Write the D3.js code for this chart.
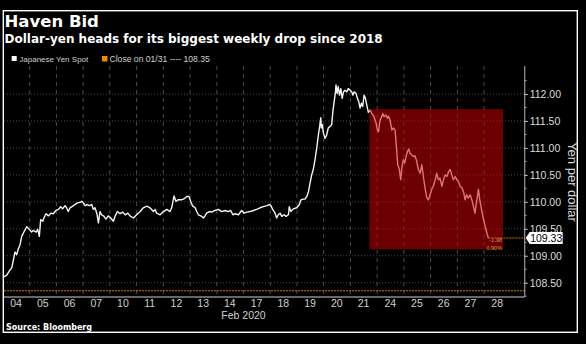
<!DOCTYPE html>
<html><head><meta charset="utf-8">
<script src="https://cdn.jsdelivr.net/npm/d3@7"></script>
<style>
html,body{margin:0;padding:0;background:#000;}
svg{display:block;}
</style></head>
<body>
<svg id="chart" width="586" height="344"></svg>
<script>
// ---- data ----
const title = "Haven Bid";
const subtitle = "Dollar-yen heads for its biggest weekly drop since 2018";
const source = "Source: Bloomberg";
const seriesName = "Japanese Yen Spot";
const closeLabel = "Close on 01/31 ---- 108.35";
const yAxisTitle = "Yen per dollar";
const monthLabel = "Feb 2020";
const dayLabels = ["04","05","06","07","10","11","12","13","14","17","18","19","20","21","24","25","26","27","28"];
const yTicks = [108.5,109,109.5,110,110.5,111,111.5,112];
const closeLevel = 108.35;
const lastValue = 109.33;
const boxDays = [13.71, 18.71];
const boxValues = [109.12, 111.72];
const boxNotes = ["-1.98", "0.90%"];
// position in trading days (0 = start of Feb 04 session)
const dayPos = [0.04,0.14,0.24,0.33,0.39,0.45,0.51,0.57,0.64,0.70,
0.79,0.89,0.98,1.07,1.13,1.24,1.30,1.36,1.41,1.49,
1.53,1.61,1.70,1.79,1.88,1.98,2.07,2.16,2.23,2.32,
2.38,2.44,2.51,2.61,2.69,2.78,2.88,2.95,3.01,3.07,
3.15,3.23,3.32,3.38,3.44,3.51,3.57,3.63,3.69,3.78,
3.85,3.94,4.03,4.13,4.19,4.28,4.38,4.48,4.57,4.67,
4.75,4.88,5.00,5.13,5.25,5.38,5.50,5.63,5.69,5.75,
5.88,6.00,6.13,6.25,6.31,6.40,6.47,6.56,6.69,6.75,
6.81,6.88,6.93,6.97,7.02,7.10,7.19,7.25,7.31,7.44,
7.50,7.56,7.62,7.72,7.81,7.93,8.06,8.18,8.31,8.43,
8.52,8.60,8.68,8.81,8.93,9.02,9.12,9.24,9.37,9.49,
9.62,9.74,9.87,9.97,10.02,10.09,10.18,10.24,10.30,10.37,
10.43,10.52,10.59,10.68,10.71,10.77,10.86,10.99,11.09,11.14,
11.22,11.30,11.37,11.43,11.49,11.55,11.61,11.68,11.74,11.80,
11.84,11.89,11.91,11.95,11.99,12.05,12.11,12.17,12.24,12.30,
12.34,12.39,12.44,12.46,12.50,12.54,12.59,12.64,12.69,12.74,
12.80,12.86,12.92,12.99,13.05,13.09,13.14,13.21,13.26,13.31,
13.36,13.41,13.46,13.51,13.56,13.61,13.67,13.74,13.80,13.88,
13.96,14.01,14.05,14.11,14.17,14.21,14.26,14.33,14.38,14.43,
14.48,14.55,14.61,14.67,14.73,14.77,14.83,14.88,14.93,14.98,
15.03,15.08,15.13,15.18,15.23,15.30,15.36,15.42,15.48,15.54,
15.61,15.67,15.73,15.79,15.86,15.92,15.98,16.04,16.10,16.17,
16.23,16.29,16.35,16.42,16.48,16.54,16.61,16.67,16.73,16.79,
16.85,16.92,16.98,17.04,17.10,17.17,17.23,17.29,17.35,17.41,
17.48,17.54,17.60,17.66,17.73,17.79,17.83,17.88,17.93,17.98,
18.04,18.10,18.16];
const yenSpot = [108.61,108.64,108.72,108.78,108.93,109.07,109.02,109.12,109.21,109.36,
109.45,109.54,109.49,109.44,109.47,109.44,109.49,109.36,109.67,109.64,
109.70,109.78,109.74,109.79,109.78,109.84,109.86,109.91,109.87,109.93,
109.89,109.82,109.89,109.92,109.95,109.98,109.99,110.01,109.98,109.93,
109.95,109.93,109.95,109.86,109.89,109.79,109.61,109.82,109.76,109.73,
109.68,109.74,109.70,109.64,109.73,109.82,109.78,109.81,109.76,109.79,
109.74,109.70,109.76,109.82,109.89,109.92,109.89,109.82,109.86,109.79,
109.76,109.82,109.86,109.82,109.89,110.11,110.01,110.04,110.04,110.05,
110.07,110.10,110.10,110.09,110.01,109.92,109.89,109.82,109.76,109.73,
109.70,109.74,109.79,109.82,109.81,109.84,109.86,109.82,109.84,109.82,
109.84,109.76,109.78,109.76,109.84,109.79,109.81,109.82,109.84,109.86,
109.89,109.91,109.93,109.95,109.93,109.86,109.79,109.70,109.76,109.79,
109.73,109.76,109.73,109.76,109.91,109.82,109.87,109.89,109.95,110.03,
110.05,110.05,110.10,110.19,110.35,110.50,110.60,110.80,111.00,111.24,
111.37,111.56,111.37,111.43,111.27,111.18,111.24,111.37,111.40,111.43,
111.67,111.86,112.04,112.17,112.01,112.14,111.98,112.10,111.92,112.04,
112.07,112.04,112.10,112.07,112.04,111.98,112.04,112.01,111.92,111.86,
111.74,111.83,111.77,111.98,111.92,111.80,111.66,111.70,111.64,111.58,
111.46,111.33,111.30,111.52,111.58,111.64,111.58,111.61,111.55,111.59,
111.52,111.33,111.37,111.33,110.96,110.69,110.60,110.41,110.66,110.78,
110.72,110.84,110.93,110.98,110.90,110.87,110.84,110.85,110.75,110.60,
110.53,110.69,110.47,110.26,110.07,110.04,110.13,110.23,110.29,110.41,
110.53,110.41,110.44,110.29,110.41,110.50,110.47,110.56,110.60,110.50,
110.41,110.47,110.41,110.38,110.29,110.26,110.19,110.04,110.13,110.07,
110.13,110.04,109.92,109.79,110.04,110.23,110.07,109.92,109.79,109.67,
109.55,109.43,109.33];

// ---- layout ----
const svg = d3.select("#chart");
const plot = {left: 3, right: 524.7, top: 66, bottom: 297};
const x = d3.scaleLinear().domain([0, 19.52]).range([plot.left, plot.right]);
const y = d3.scaleLinear().domain([108.235, 112.52]).range([plot.bottom, plot.top]);
const data = dayPos.map((d, i) => ({t: d, v: yenSpot[i]}));

svg.append("rect").attr("width", 586).attr("height", 344).attr("fill", "#000");

// border
svg.append("rect").attr("x", 3.3).attr("y", 10.7).attr("width", 574).attr("height", 321.6)
  .attr("fill", "none").attr("stroke", "#fff").attr("stroke-width", 1.4);

// titles
svg.append("text").attr("x", 4.5).attr("y", 27).text(title)
  .attr("font-family", "DejaVu Sans").attr("font-weight", "bold").attr("font-size", 16.5).attr("fill", "#fff");
svg.append("text").attr("x", 4.5).attr("y", 42.5).text(subtitle)
  .attr("font-family", "DejaVu Sans").attr("font-weight", "bold").attr("font-size", 12).attr("fill", "#fff");

// legend
const lg = svg.append("g").attr("font-family", "Liberation Sans").attr("fill", "#cfcfcf");
lg.append("rect").attr("x", 11.7).attr("y", 56).attr("width", 5).attr("height", 5).attr("fill", "#fff");
lg.append("text").attr("x", 19.3).attr("y", 61.8).attr("font-size", 8).text(seriesName);
lg.append("rect").attr("x", 102).attr("y", 56).attr("width", 5.5).attr("height", 5.5).attr("fill", "#f08a00");
lg.append("text").attr("x", 109.5).attr("y", 61.8).attr("font-size", 8.6).text(closeLabel);

// vertical dashed gridlines at day boundaries
svg.append("g").selectAll("line").data(d3.range(1, dayLabels.length)).join("line")
  .attr("x1", d => x(d)).attr("x2", d => x(d))
  .attr("y1", plot.top).attr("y2", plot.bottom)
  .attr("stroke", "#4a4a4a").attr("stroke-width", 1).attr("stroke-dasharray", "4,4");

// horizontal dotted gridlines
svg.append("g").selectAll("line").data(yTicks).join("line")
  .attr("x1", plot.left + 1).attr("x2", plot.right)
  .attr("y1", d => y(d)).attr("y2", d => y(d))
  .attr("stroke", "#4a4a4a").attr("stroke-width", 1).attr("stroke-dasharray", "1,2");

// close level line
svg.append("line").attr("x1", plot.left + 1).attr("x2", plot.right)
  .attr("y1", y(closeLevel)).attr("y2", y(closeLevel))
  .attr("stroke", "#d87400").attr("stroke-width", 1).attr("stroke-dasharray", "2,1");

// price line
const line = d3.line().x(d => x(d.t)).y(d => y(d.v));
svg.append("path").datum(data).attr("d", line)
  .attr("fill", "none").attr("stroke", "#f4f4f4").attr("stroke-width", 1.4).attr("stroke-linejoin", "round");

// highlight box
svg.append("rect")
  .attr("x", x(boxDays[0])).attr("width", x(boxDays[1]) - x(boxDays[0]))
  .attr("y", y(boxValues[1])).attr("height", y(boxValues[0]) - y(boxValues[1]))
  .attr("fill", "#d00000").attr("fill-opacity", 0.52);

// box notes
svg.append("text").attr("x", x(boxDays[1]) - 1).attr("y", 242).attr("text-anchor", "end")
  .attr("font-family", "Liberation Sans").attr("font-size", 5.5).attr("fill", "#c89090").text(boxNotes[0]);
svg.append("text").attr("x", x(boxDays[1]) - 1).attr("y", 249.5).attr("text-anchor", "end")
  .attr("font-family", "Liberation Sans").attr("font-size", 5.5).attr("fill", "#d09a20").text(boxNotes[1]);

// last price line
const last = data[data.length - 1];
svg.append("line").attr("x1", x(last.t)).attr("x2", plot.right)
  .attr("y1", y(lastValue)).attr("y2", y(lastValue))
  .attr("stroke", "#c87000").attr("stroke-width", 1).attr("stroke-dasharray", "2,1");

// x axis
const xAxis = d3.axisBottom(x)
  .tickValues(dayLabels.map((d, i) => i + 0.47))
  .tickFormat((d, i) => dayLabels[i]).tickSize(0).tickPadding(2.5);
const gx = svg.append("g").attr("transform", `translate(0,${plot.bottom})`).call(xAxis);
gx.select(".domain").attr("stroke", "#8a8a8a").attr("stroke-width", 1.5).attr("d", `M${plot.left + 1},0H${plot.right}`);
gx.selectAll("text").attr("fill", "#d0d0d0").attr("font-family", "Liberation Sans").attr("font-size", 10.5);

svg.append("text").attr("x", x(9)).attr("y", 318.5).attr("text-anchor", "middle")
  .attr("font-family", "Liberation Sans").attr("font-size", 10.5).attr("fill", "#d0d0d0").text(monthLabel);

// y axis (right)
const yAxis = d3.axisRight(y).tickValues(yTicks).tickFormat(d3.format(".2f")).tickSize(3).tickPadding(2);
const gy = svg.append("g").attr("transform", `translate(${plot.right},0)`).call(yAxis);
gy.select(".domain").attr("stroke", "#9a9a9a").attr("stroke-width", 1.2).attr("d", `M0,${plot.top}V${plot.bottom}`);
gy.selectAll(".tick line").attr("stroke", "#cfcfcf");
gy.selectAll("text").attr("fill", "#dcdcdc").attr("font-family", "Liberation Sans").attr("font-size", 10.5);
// minor ticks
const minor = d3.range(108.25, 112.5, 0.5);
svg.append("g").selectAll("line").data(minor).join("line")
  .attr("x1", plot.right).attr("x2", plot.right + 2)
  .attr("y1", d => y(d)).attr("y2", d => y(d)).attr("stroke", "#9a9a9a");

// last price tag
const ly = y(lastValue);
svg.append("path")
  .attr("d", `M${plot.right + 1},${ly} L${plot.right + 5},${ly - 6} H${plot.right + 38} V${ly + 6} H${plot.right + 5} Z`)
  .attr("fill", "#fff");
svg.append("text").attr("x", plot.right + 21.5).attr("y", ly + 3.8).attr("text-anchor", "middle")
  .attr("font-family", "Liberation Sans").attr("font-size", 10.5).attr("fill", "#000").text(lastValue.toFixed(2));

// y axis title
svg.append("text").attr("transform", `translate(567.5,182) rotate(90)`).attr("text-anchor", "middle")
  .attr("font-family", "Liberation Sans").attr("font-size", 13).attr("fill", "#d8d8d8").text(yAxisTitle);

// source
svg.append("text").attr("x", 6).attr("y", 330).text(source)
  .attr("font-family", "DejaVu Sans").attr("font-weight", "bold").attr("font-size", 8).attr("fill", "#fff");
</script>
</body></html>
